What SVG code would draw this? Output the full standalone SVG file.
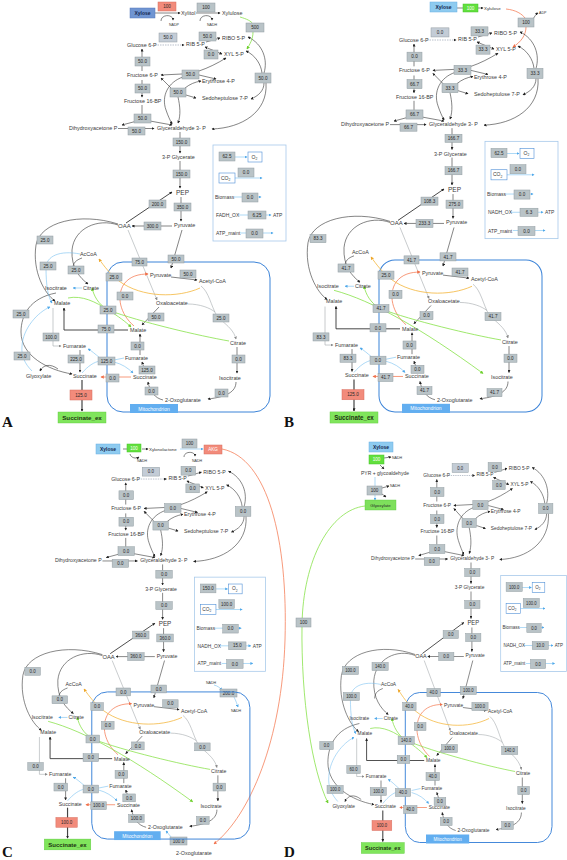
<svg xmlns="http://www.w3.org/2000/svg" width="567" height="860" viewBox="0 0 567 860">
<style>
.m{font-family:"Liberation Sans",Arial,sans-serif;font-size:5.4px;fill:#3a3a3a}
.i{font-family:"Liberation Sans",Arial,sans-serif;font-size:5px;fill:#3a3a3a}
.s{font-family:"Liberation Sans",Arial,sans-serif;font-size:3.6px;fill:#333}
.v{font-family:"Liberation Sans",Arial,sans-serif;font-size:4.6px;fill:#2a2a2a;text-anchor:middle}
.xt{font-family:"Liberation Sans",Arial,sans-serif;font-size:5px;font-weight:bold;fill:#14264e;text-anchor:middle}
.ml{font-family:"Liberation Sans",Arial,sans-serif;font-size:5px;fill:#fff;text-anchor:middle}
.se{font-family:"Liberation Sans",Arial,sans-serif;font-size:6.2px;font-weight:bold;fill:#1d3312;text-anchor:middle}
.pl{font-family:"Liberation Serif","Times New Roman",serif;font-size:15px;font-weight:bold;fill:#111}
.fb{fill:#b9c3c7;stroke:#929da2;stroke-width:0.5}
.rb{fill:#f28b7b;stroke:#d86d5e;stroke-width:0.5}
.gb{fill:#62e03e;stroke:#45c22a;stroke-width:0.5}
.xb{fill:#8ecbf0;stroke:#6aaee3;stroke-width:0.5}
.wb{fill:#fff;stroke:#4d8ed6;stroke-width:0.6}
.k{fill:none;stroke:#333;stroke-width:0.6;marker-end:url(#ak)}
.k0{fill:none;stroke:#333;stroke-width:0.6}
.ks{fill:none;stroke:#333;stroke-width:0.6;marker-start:url(#ak)}
.k2{fill:none;stroke:#333;stroke-width:0.6;marker-start:url(#ak);marker-end:url(#ak)}
.kt{fill:none;stroke:#333;stroke-width:0.9;marker-end:url(#ak)}
.kk{fill:none;stroke:#444;stroke-width:1.2;marker-end:url(#ak)}
.g{fill:none;stroke:#a3a9ac;stroke-width:0.6;marker-end:url(#agy)}
.g0{fill:none;stroke:#a3a9ac;stroke-width:0.6}
.dsh{fill:none;stroke:#8a96a8;stroke-width:0.6;stroke-dasharray:1.5 1;marker-end:url(#ak)}
.bl{fill:none;stroke:#76bff0;stroke-width:0.6;marker-end:url(#ab)}
.bl0{fill:none;stroke:#76bff0;stroke-width:0.6}
.or{fill:none;stroke:#f5805a;stroke-width:0.8;marker-end:url(#ao)}
.or0{fill:none;stroke:#f5805a;stroke-width:0.8}
.ye{fill:none;stroke:#f4b63c;stroke-width:0.8;marker-end:url(#ay)}
.gr{fill:none;stroke:#88e24a;stroke-width:0.8;marker-end:url(#agr)}
.gr0{fill:none;stroke:#88e24a;stroke-width:0.8}
.mito{fill:none;stroke:#3b83d8;stroke-width:1}
</style>
<defs>
<marker id="ak" viewBox="0 0 6 6" refX="5" refY="3" markerWidth="3" markerHeight="3" markerUnits="userSpaceOnUse" orient="auto-start-reverse"><path d="M0,0 L6,3 L0,6 z" fill="#222"/></marker>
<marker id="agy" viewBox="0 0 6 6" refX="5" refY="3" markerWidth="3" markerHeight="3" markerUnits="userSpaceOnUse" orient="auto-start-reverse"><path d="M0,0 L6,3 L0,6 z" fill="#888"/></marker>
<marker id="ab" viewBox="0 0 6 6" refX="5" refY="3" markerWidth="3" markerHeight="3" markerUnits="userSpaceOnUse" orient="auto-start-reverse"><path d="M0,0 L6,3 L0,6 z" fill="#4fa8ea"/></marker>
<marker id="ao" viewBox="0 0 6 6" refX="5" refY="3" markerWidth="3.4" markerHeight="3.4" markerUnits="userSpaceOnUse" orient="auto-start-reverse"><path d="M0,0 L6,3 L0,6 z" fill="#f0704a"/></marker>
<marker id="ay" viewBox="0 0 6 6" refX="5" refY="3" markerWidth="3.4" markerHeight="3.4" markerUnits="userSpaceOnUse" orient="auto-start-reverse"><path d="M0,0 L6,3 L0,6 z" fill="#eea62a"/></marker>
<marker id="agr" viewBox="0 0 6 6" refX="5" refY="3" markerWidth="3.4" markerHeight="3.4" markerUnits="userSpaceOnUse" orient="auto-start-reverse"><path d="M0,0 L6,3 L0,6 z" fill="#6fcf30"/></marker>

<g id="conn-core">
<rect class="mito" x="107" y="262" width="163" height="150" rx="16"/>
<path class="dsh" d="M155,45 L184,45"/>
<path class="k" d="M206,42 L220,38"/>
<path class="k2" d="M222,54 L205,47"/>
<path class="k" d="M142,71 L142,49"/>
<path class="k" d="M142,80 L142,97"/>
<path class="k0" d="M142,105 L142,114"/>
<path class="k" d="M137,121 L122,125"/>
<path class="k" d="M150,121 L172,125"/>
<path class="k" d="M118,128.5 L154,128.5"/>
<path class="k" d="M180,132 L180,153"/>
<path class="k" d="M180,161 L180,188"/>
<path class="k" d="M181,197 L181,221"/>
<path class="kt" d="M126,223 L172,192"/>
<path class="k" d="M172,226 L132,226"/>
<path class="k" d="M182,230 L171,268"/>
<path class="k" d="M171,277 L197,280"/>
<path class="g" d="M128,230 L157,300"/>
<path class="g0" d="M201,286 C209,292 211,306 217,316"/>
<path class="g0" d="M188,304 C200,304 210,308 215,312"/>
<path class="g" d="M221,320 C228,326 234,331 236,339"/>
<path class="k" d="M237,347 L237,373"/>
<path class="k" d="M236,382 C236,392 226,397 208,399"/>
<path class="k" d="M163,400 C155,398 150,392 148,382"/>
<path class="k" d="M146,373 L142,362"/>
<path class="k" d="M140,355 L140,334"/>
<path class="k" d="M159,307 L142,325"/>
<path class="kt" d="M128,330 L64,330 L64,308"/>
<path class="g" d="M53,308 L53,346 L61,346"/>
<path class="k" d="M80,350 L80,372"/>
<path class="or" d="M131,377 L101,377"/>
<path class="kk" d="M82,380 L82,411"/>
<path class="bl" d="M100,358 C95,354 92,351 88,349"/>
<path class="bl0" d="M82,373 C88,366 94,362 100,361"/>
<path class="bl" d="M114,362 C122,364 128,368 133,373"/>
<path class="bl0" d="M124,358 L114,360"/>
<path class="bl" d="M82,288 L73,288"/>
<path class="k" d="M118,225 C98,218 74,228 72,250 C71,268 80,278 88,284"/>
<path class="k0" d="M82,258 C76,260 73,263 73,268"/>
<path class="k" d="M118,224 C80,212 40,222 36,245 C32,272 45,294 55,301"/>
<path class="or" d="M134,326 C120,314 116,296 124,284 C130,276 139,274 148,274"/>
<path class="ye" d="M200,288 C178,298 142,298 119,281 C110,274 104,266 99,259"/>
<path class="gr" d="M229,341 C200,336 140,322 108,310 C98,304 94,296 92,288"/>
<path class="ks" d="M248,37 C263,44 268,60 264,73"/>
<path class="ks" d="M246,51 C255,55 261,64 262,73"/>
<path class="k" d="M264,83 C264,91 258,96 251,99"/>
<path class="k" d="M266,83 C268,112 242,128 212,129"/>
<path class="k" d="M182,74 L161,75"/>
<path class="k" d="M199,75 L216,79"/>
<path class="ks" d="M226,58 C218,63 208,68 199,71"/>
<path class="k" d="M183,77 C168,82 161,96 166,110 C168,116 170,120 172,124"/>
<path class="k" d="M171,88 L161,78"/>
<path class="k" d="M186,95 L196,98"/>
<path class="k" d="M185,88 C190,84 195,82 201,81"/>
<path class="k" d="M178,97 C180,106 181,115 178,123"/>
</g>
<g id="conn-malate"><path class="gr" d="M68,298 C82,295 96,302 108,310 C118,316 126,322 131,327"/></g>
<g id="conn-iso"><path class="gr" d="M62,292 C100,302 150,330 211,374"/></g>
<g id="conn-glyox">
<path class="k" d="M56,293 C30,298 21,315 21,332 C21,356 48,370 72,374"/>
<path class="k" d="M58,369 C50,363 43,365 40,371"/>
<path class="bl" d="M32,371 C25,364 21,356 22,346 C23,328 38,312 50,307"/>
<path class="bl" d="M80,254 C60,250 46,256 46,268 C46,285 48,297 52,303"/>
<g id="n-glyoxylate"><text class="m" x="26" y="378">Glyoxylate</text></g>
</g>
<g id="labels-core">
<g id="n-ribo5p"><text class="m" x="222" y="40">RIBO 5-P</text></g>
<g id="n-rib5p"><text class="m" x="186" y="46">RIB 5-P</text></g>
<g id="n-g6p"><text class="m" x="127" y="47">Glucose 6-P</text></g>
<g id="n-xyl5p"><text class="m" x="224" y="56">XYL 5-P</text></g>
<g id="n-f6p"><text class="m" x="127" y="77">Fructose 6-P</text></g>
<g id="n-e4p"><text class="m" x="202" y="83">Erythrose 4-P</text></g>
<g id="n-s7p"><text class="m" x="202" y="100">Sedoheptulose 7-P</text></g>
<g id="n-f16bp"><text class="m" x="124" y="103">Fructose 16-BP</text></g>
<g id="n-dhap"><text class="m" x="69" y="130">Dihydroxyacetone P</text></g>
<g id="n-gap"><text class="m" x="157" y="130">Glyceraldehyde 3- P</text></g>
<g id="n-3pg"><text class="m" x="162" y="159">3-P Glycerate</text></g>
<g id="n-pep"><text class="m" x="176" y="195" style="font-size:6.5px">PEP</text></g>
<g id="n-pyr"><text class="m" x="174" y="227">Pyruvate</text></g>
<g id="n-oaa"><text class="m" x="118" y="228" style="font-size:6px">OAA</text></g>
<g id="n-accoa"><text class="m" x="80" y="256">AcCoA</text></g>
<g id="n-pyr-m"><text class="m" x="150" y="277">Pyruvate</text></g>
<g id="n-acetylcoa-m"><text class="m" x="199" y="283">Acetyl-CoA</text></g>
<g id="n-isocit"><text class="m" x="45" y="290">Isocitrate</text></g>
<g id="n-cit"><text class="m" x="83" y="290">Citrate</text></g>
<g id="n-mal"><text class="m" x="54" y="305">Malate</text></g>
<g id="n-oaa-m"><text class="m" x="156" y="305">Oxaloacetate</text></g>
<g id="n-mal-m"><text class="m" x="130" y="332">Malate</text></g>
<g id="n-cit-m"><text class="m" x="230" y="345">Citrate</text></g>
<g id="n-fum"><text class="m" x="63" y="348">Fumarate</text></g>
<g id="n-fum-m"><text class="m" x="125" y="360">Fumarate</text></g>
<g id="n-succ"><text class="m" x="73" y="378">Succinate</text></g>
<g id="n-succ-m"><text class="m" x="133" y="379">Succinate</text></g>
<g id="n-isocit-m"><text class="m" x="219" y="380">Isocitrate</text></g>
<g id="n-2og-m"><text class="m" x="165" y="402">2-Oxoglutarate</text></g>
<g id="n-mito"><rect x="130" y="404" width="48" height="9" fill="#62aef0"/><text class="ml" x="154" y="410.5">Mitochondrion</text></g>
<g id="n-succ-ex"><rect x="58" y="412" width="48" height="11" fill="#80e55c" stroke="#5cc83c" stroke-width="0.4"/><text class="se" x="82" y="419.8">Succinate_ex</text></g>
</g>
<g id="info-frame">
<rect x="213" y="145" width="73" height="96" fill="none" stroke="#a7c9ea" stroke-width="0.8"/>
<path class="bl" d="M235,157 L247,157"/>
<rect class="wb" x="248" y="152" width="14" height="10"/><text class="i" x="251.5" y="158.5">O<tspan font-size="3.4" dy="1.2">2</tspan></text>
<path class="bl" d="M235,178 L262,178"/>
<rect class="wb" x="219" y="173" width="16" height="10"/><text class="i" x="221" y="179.5">CO<tspan font-size="3.4" dy="1.2">2</tspan></text>
<text class="i" x="215" y="199">Biomass</text>
<path class="bl" d="M234,197 L261,197"/>
<path class="bl" d="M238,215 L271,215"/>
<text class="i" x="273" y="217">ATP</text>
<text class="i" x="216" y="235">ATP_maint</text>
<path class="bl" d="M241,233 L273,233"/>
</g>
</defs>

<!-- ================= PANEL A ================= -->
<g id="panel-a">
<g id="a-connectors">
<use href="#conn-core"/><use href="#conn-malate"/><use href="#conn-glyox"/><use href="#info-frame"/>
<path class="k" d="M155,13 L180,13"/>
<path class="k" d="M161,21 C161,14 173,14 173,20"/>
<path class="k" d="M196,13 L220,13"/>
<path class="k" d="M200,21 C200,14 212,14 212,20"/>
<path class="gr0" d="M240,17 C247,19 251,21 253,24"/>
<path class="gr" d="M253,32 C253,39 250,44 247,49"/>
</g>
<use href="#labels-core"/>
<g id="a-xylose"><rect x="130" y="8" width="25" height="10" fill="#7095d2" stroke="#5479bd" stroke-width="0.5"/><text class="xt" x="142.5" y="14.8">Xylose</text></g>
<g id="a-xylitol"><text class="m" x="181" y="15">Xylitol</text></g>
<g id="a-xylulose"><text class="m" x="222" y="15">Xylulose</text></g>
<g id="a-nadp"><text class="s" x="169" y="26">NADP</text></g>
<g id="a-nadh"><text class="s" x="207" y="26">NADH</text></g>
<text class="i" x="216" y="217">FADH_OX</text>
<g id="a-fluxes">
<rect class="rb" x="158" y="2" width="18" height="9"/><text class="v" x="167" y="8.2">100</text>
<rect class="fb" x="197" y="3" width="18" height="9"/><text class="v" x="206" y="9.2">100</text>
<rect class="fb" x="246" y="23" width="18" height="9"/><text class="v" x="255" y="29.2">500</text>
<rect class="fb" x="159" y="33" width="18" height="9" style="fill:#c3ccd6"/><text class="v" x="168" y="39.2">50.0</text>
<rect class="fb" x="199" y="32" width="17" height="9"/><text class="v" x="207.5" y="38.2">50.0</text>
<rect class="fb" x="204" y="50" width="14" height="9"/><text class="v" x="211" y="56.2">0.0</text>
<rect class="fb" x="255" y="73" width="16" height="10"/><text class="v" x="263" y="79.7">50.0</text>
<rect class="fb" x="135" y="57" width="15" height="9"/><text class="v" x="142.5" y="63.2">50.0</text>
<rect class="fb" x="182" y="70" width="17" height="9"/><text class="v" x="190.5" y="76.2">50.0</text>
<rect class="fb" x="170" y="88" width="16" height="9"/><text class="v" x="178" y="94.2">50.0</text>
<rect class="fb" x="135" y="84" width="15" height="9"/><text class="v" x="142.5" y="90.2">50.0</text>
<rect class="fb" x="134" y="114" width="17" height="9"/><text class="v" x="142.5" y="120.2">50.0</text>
<rect class="fb" x="128" y="127" width="17" height="8"/><text class="v" x="136.5" y="132.7">50.0</text>
<rect class="fb" x="173" y="138" width="17" height="8"/><text class="v" x="181.5" y="143.7">150.0</text>
<rect class="fb" x="173" y="170" width="17" height="8"/><text class="v" x="181.5" y="175.7">150.0</text>
<rect class="fb" x="149" y="200" width="17" height="8"/><text class="v" x="157.5" y="205.7">200.0</text>
<rect class="fb" x="174" y="203" width="17" height="8"/><text class="v" x="182.5" y="208.7">350.0</text>
<rect class="fb" x="144" y="222" width="17" height="8"/><text class="v" x="152.5" y="227.7">300.0</text>
<rect class="fb" x="168" y="255" width="16" height="8"/><text class="v" x="176" y="260.7">50.0</text>
<rect class="fb" x="132" y="258" width="15" height="8"/><text class="v" x="139.5" y="263.7">75.0</text>
<rect class="fb" x="180" y="270" width="16" height="8"/><text class="v" x="188" y="275.7">50.0</text>
<rect class="fb" x="213" y="314" width="16" height="8"/><text class="v" x="221" y="319.7">25.0</text>
<rect class="fb" x="232" y="355" width="13" height="8"/><text class="v" x="238.5" y="360.7">0.0</text>
<rect class="fb" x="215" y="389" width="13" height="8"/><text class="v" x="221.5" y="394.7">0.0</text>
<rect class="fb" x="145" y="387" width="13" height="8"/><text class="v" x="151.5" y="392.7">0.0</text>
<rect class="fb" x="139" y="366" width="16" height="8"/><text class="v" x="147" y="371.7">125.0</text>
<rect class="fb" x="131" y="342" width="13" height="8"/><text class="v" x="137.5" y="347.7">0.0</text>
<rect class="fb" x="148" y="313" width="16" height="8"/><text class="v" x="156" y="318.7">50.0</text>
<rect class="fb" x="117" y="292" width="16" height="8"/><text class="v" x="125" y="297.7">0.0</text>
<rect class="fb" x="106" y="273" width="16" height="8"/><text class="v" x="114" y="278.7">25.0</text>
<rect class="fb" x="100" y="306" width="16" height="8"/><text class="v" x="108" y="311.7">25.0</text>
<rect class="fb" x="98" y="325" width="16" height="8"/><text class="v" x="106" y="330.7">75.0</text>
<rect class="fb" x="68" y="266" width="16" height="8"/><text class="v" x="76" y="271.7">25.0</text>
<rect class="fb" x="37" y="236" width="16" height="8"/><text class="v" x="45" y="241.7">25.0</text>
<rect class="fb" x="40" y="262" width="16" height="8"/><text class="v" x="48" y="267.7">25.0</text>
<rect class="fb" x="13" y="310" width="16" height="8"/><text class="v" x="21" y="315.7">25.0</text>
<rect class="fb" x="14" y="352" width="16" height="8"/><text class="v" x="22" y="357.7">25.0</text>
<rect class="fb" x="43" y="333" width="16" height="8"/><text class="v" x="51" y="338.7">100.0</text>
<rect class="fb" x="68" y="355" width="16" height="8"/><text class="v" x="76" y="360.7">225.0</text>
<rect class="fb" x="98" y="357" width="17" height="8"/><text class="v" x="106.5" y="362.7">125.0</text>
<rect class="fb" x="106" y="374" width="13" height="8"/><text class="v" x="112.5" y="379.7">0.0</text>
<rect class="rb" x="70" y="390" width="22" height="10"/><text class="v" x="81" y="396.7">125.0</text>
<rect class="fb" x="219" y="152" width="16" height="9"/><text class="v" x="227" y="158.2">62.5</text>
<rect class="fb" x="238" y="168" width="16" height="9"/><text class="v" x="246" y="174.2">0.0</text>
<rect class="fb" x="242" y="193" width="16" height="9"/><text class="v" x="250" y="199.2">0.0</text>
<rect class="fb" x="248" y="211" width="18" height="8"/><text class="v" x="257" y="216.7">6.25</text>
<rect class="fb" x="246" y="229" width="17" height="9"/><text class="v" x="254.5" y="235.2">0.0</text>
</g>
</g>

<!-- ================= PANEL B ================= -->
<g id="panel-b-top">
<path class="k0" d="M457,8 L463,8"/>
<path class="k" d="M478,8 L483,8"/>
<path class="or0" d="M506,9 C516,10 522,14 525,18"/>
<path class="or" d="M526,27 C526,35 521,42 513,47"/>
<path class="k" d="M533,19 C535,16 536,14 538,13"/>
<g id="b-xylose"><rect class="xb" x="430" y="2" width="27" height="10"/><text class="xt" x="443.5" y="8.8">Xylose</text></g>
<g id="b-xylulose"><text class="s" x="484" y="9.5" style="font-size:4.4px">Xylulose</text></g>
<g id="b-adp"><text class="s" x="539" y="14">ADP</text></g>
<rect class="gb" x="463" y="4" width="15" height="8"/><text class="v" x="470.5" y="9.7" style="fill:#fff">100</text>
<rect class="fb" x="518" y="18" width="16" height="9"/><text class="v" x="526" y="24.2">100</text>
</g>
<g id="panel-b" transform="translate(272,-5.6) scale(1,1.0134)">
<g id="b-connectors"><use href="#conn-core"/><use href="#conn-iso"/><use href="#info-frame"/></g>
<use href="#labels-core"/>
<text class="i" x="216" y="217">NADH_OX</text>
<g id="b-fluxes">
<rect class="fb" x="159" y="33" width="18" height="9" style="fill:#c3ccd6"/><text class="v" x="168" y="39.2">0.0</text>
<rect class="fb" x="199" y="32" width="17" height="9"/><text class="v" x="207.5" y="38.2">33.3</text>
<rect class="fb" x="204" y="50" width="14" height="9"/><text class="v" x="211" y="56.2">33.3</text>
<rect class="fb" x="255" y="73" width="16" height="10"/><text class="v" x="263" y="79.7">33.3</text>
<rect class="fb" x="135" y="57" width="15" height="9"/><text class="v" x="142.5" y="63.2">0.0</text>
<rect class="fb" x="182" y="70" width="17" height="9"/><text class="v" x="190.5" y="76.2">33.3</text>
<rect class="fb" x="170" y="88" width="16" height="9"/><text class="v" x="178" y="94.2">33.3</text>
<rect class="fb" x="135" y="84" width="15" height="9"/><text class="v" x="142.5" y="90.2">66.7</text>
<rect class="fb" x="134" y="114" width="17" height="9"/><text class="v" x="142.5" y="120.2">66.7</text>
<rect class="fb" x="128" y="127" width="17" height="8"/><text class="v" x="136.5" y="132.7">66.7</text>
<rect class="fb" x="173" y="138" width="17" height="8"/><text class="v" x="181.5" y="143.7">166.7</text>
<rect class="fb" x="173" y="170" width="17" height="8"/><text class="v" x="181.5" y="175.7">166.7</text>
<rect class="fb" x="149" y="200" width="17" height="8"/><text class="v" x="157.5" y="205.7">108.3</text>
<rect class="fb" x="174" y="203" width="17" height="8"/><text class="v" x="182.5" y="208.7">275.0</text>
<rect class="fb" x="144" y="222" width="17" height="8"/><text class="v" x="152.5" y="227.7">233.3</text>
<rect class="fb" x="168" y="255" width="16" height="8"/><text class="v" x="176" y="260.7">41.7</text>
<rect class="fb" x="132" y="258" width="15" height="8"/><text class="v" x="139.5" y="263.7">41.7</text>
<rect class="fb" x="180" y="270" width="16" height="8"/><text class="v" x="188" y="275.7">41.7</text>
<rect class="fb" x="213" y="314" width="16" height="8"/><text class="v" x="221" y="319.7">41.7</text>
<rect class="fb" x="232" y="355" width="13" height="8"/><text class="v" x="238.5" y="360.7">0.0</text>
<rect class="fb" x="215" y="389" width="15" height="8"/><text class="v" x="222.5" y="394.7">41.7</text>
<rect class="fb" x="145" y="387" width="15" height="8"/><text class="v" x="152.5" y="392.7">41.7</text>
<rect class="fb" x="139" y="366" width="13" height="8"/><text class="v" x="145.5" y="371.7">0.0</text>
<rect class="fb" x="131" y="342" width="13" height="8"/><text class="v" x="137.5" y="347.7">0.0</text>
<rect class="fb" x="148" y="313" width="13" height="8"/><text class="v" x="154.5" y="318.7">0.0</text>
<rect class="fb" x="117" y="292" width="13" height="8"/><text class="v" x="123.5" y="297.7">0.0</text>
<rect class="fb" x="106" y="273" width="16" height="8"/><text class="v" x="114" y="278.7">25.0</text>
<rect class="fb" x="101" y="306" width="16" height="8"/><text class="v" x="109" y="311.7">41.7</text>
<rect class="fb" x="98" y="325" width="16" height="8"/><text class="v" x="106" y="330.7">0.0</text>
<rect class="fb" x="66" y="266" width="16" height="8"/><text class="v" x="74" y="271.7">41.7</text>
<rect class="fb" x="38" y="237" width="16" height="8"/><text class="v" x="46" y="242.7">83.3</text>
<rect class="fb" x="41" y="334" width="16" height="8"/><text class="v" x="49" y="339.7">83.3</text>
<rect class="fb" x="68" y="355" width="16" height="8"/><text class="v" x="76" y="360.7">83.3</text>
<rect class="fb" x="98" y="357" width="16" height="8"/><text class="v" x="106" y="362.7">0.0</text>
<rect class="fb" x="106" y="374" width="15" height="8"/><text class="v" x="113.5" y="379.7">41.7</text>
<rect class="rb" x="70" y="390" width="22" height="10"/><text class="v" x="81" y="396.7">125.0</text>
<rect class="fb" x="219" y="152" width="16" height="9"/><text class="v" x="227" y="158.2">62.5</text>
<rect class="fb" x="238" y="168" width="16" height="9"/><text class="v" x="246" y="174.2">0.0</text>
<rect class="fb" x="242" y="193" width="16" height="9"/><text class="v" x="250" y="199.2">0.0</text>
<rect class="fb" x="248" y="211" width="18" height="8"/><text class="v" x="257" y="216.7">6.3</text>
<rect class="fb" x="246" y="229" width="17" height="9"/><text class="v" x="254.5" y="235.2">0.0</text>
</g>
</g>

<!-- ================= PANEL C ================= -->
<g id="panel-c-top">
<path class="or" d="M222,449 C268,458 288,540 285,640 C282,740 250,815 214,844"/>
<path class="k0" d="M123,449 L128,449"/>
<path class="k" d="M142,449 L148,449"/>
<path class="k" d="M130,454 C131,458 136,459 139,457"/>
<path class="bl" d="M180,449 L203,449"/>
<path class="k" d="M184,457 C184,451 195,451 195,456"/>
<path class="bl" d="M214,685 C218,686 220,688 222,690"/>
<path class="bl" d="M234,697 C236,701 237,704 238,707"/>
<path class="bl" d="M172,838 L166,831"/>
<g id="c-xylose"><rect class="xb" x="96" y="444" width="24" height="10"/><text class="xt" x="108" y="450.8">Xylose</text></g>
<g id="c-xylonolactone"><text class="s" x="149" y="450.8" style="font-size:4.4px">Xylonolactone</text></g>
<g id="c-nadh1"><text class="s" x="137" y="462">NADH</text></g>
<g id="c-nadh2"><text class="s" x="192" y="462">NADH</text></g>
<g id="c-akg"><rect class="rb" x="204" y="445" width="18" height="9"/><text class="v" x="213" y="451.2" style="fill:#fff">AKG</text></g>
<g id="c-nadh3"><text class="s" x="206" y="684">NADH</text></g>
<g id="c-nadh4"><text class="s" x="231" y="712">NADH</text></g>
<g id="c-2og-out"><text class="m" x="176" y="855">2-Oxoglutarate</text></g>
<rect class="gb" x="127" y="444" width="14" height="8"/><text class="v" x="134" y="449.7" style="fill:#fff">100</text>
<rect class="fb" x="182" y="439" width="15" height="9"/><text class="v" x="189.5" y="445.2">100</text>
<rect class="fb" x="220" y="689" width="17" height="8"/><text class="v" x="228.5" y="694.7">200.0</text>
<rect class="fb" x="170" y="837" width="17" height="8"/><text class="v" x="178.5" y="842.7">100.0</text>
</g>
<g id="panel-c" transform="translate(-12,434.9) scale(0.97,0.981)">
<g id="c-connectors"><use href="#conn-core"/><use href="#conn-iso"/><use href="#info-frame"/></g>
<use href="#labels-core"/>
<text class="i" x="216" y="217">NADH_OX</text>
<g id="c-fluxes">
<rect class="fb" x="159" y="33" width="18" height="9" style="fill:#c3ccd6"/><text class="v" x="168" y="39.2">0.0</text>
<rect class="fb" x="199" y="32" width="15" height="9"/><text class="v" x="206.5" y="38.2">0.0</text>
<rect class="fb" x="204" y="50" width="14" height="9"/><text class="v" x="211" y="56.2">0.0</text>
<rect class="fb" x="255" y="73" width="16" height="10"/><text class="v" x="263" y="79.7">0.0</text>
<rect class="fb" x="135" y="57" width="15" height="9"/><text class="v" x="142.5" y="63.2">0.0</text>
<rect class="fb" x="182" y="70" width="17" height="9"/><text class="v" x="190.5" y="76.2">0.0</text>
<rect class="fb" x="170" y="88" width="16" height="9"/><text class="v" x="178" y="94.2">0.0</text>
<rect class="fb" x="135" y="84" width="15" height="9"/><text class="v" x="142.5" y="90.2">0.0</text>
<rect class="fb" x="134" y="114" width="17" height="9"/><text class="v" x="142.5" y="120.2">0.0</text>
<rect class="fb" x="128" y="127" width="17" height="8"/><text class="v" x="136.5" y="132.7">0.0</text>
<rect class="fb" x="173" y="138" width="17" height="8"/><text class="v" x="181.5" y="143.7">0.0</text>
<rect class="fb" x="173" y="170" width="17" height="8"/><text class="v" x="181.5" y="175.7">0.0</text>
<rect class="fb" x="149" y="200" width="17" height="8"/><text class="v" x="157.5" y="205.7">360.0</text>
<rect class="fb" x="174" y="203" width="17" height="8"/><text class="v" x="182.5" y="208.7">360.0</text>
<rect class="fb" x="144" y="222" width="17" height="8"/><text class="v" x="152.5" y="227.7">360.0</text>
<rect class="fb" x="168" y="255" width="16" height="8"/><text class="v" x="176" y="260.7">0.0</text>
<rect class="fb" x="132" y="258" width="15" height="8"/><text class="v" x="139.5" y="263.7">0.0</text>
<rect class="fb" x="180" y="270" width="16" height="8"/><text class="v" x="188" y="275.7">0.0</text>
<rect class="fb" x="213" y="314" width="16" height="8"/><text class="v" x="221" y="319.7">0.0</text>
<rect class="fb" x="232" y="355" width="13" height="8"/><text class="v" x="238.5" y="360.7">0.0</text>
<rect class="fb" x="215" y="389" width="13" height="8"/><text class="v" x="221.5" y="394.7">0.0</text>
<rect class="fb" x="145" y="387" width="16" height="8"/><text class="v" x="153" y="392.7">100.0</text>
<rect class="fb" x="139" y="366" width="13" height="8"/><text class="v" x="145.5" y="371.7">0.0</text>
<rect class="fb" x="131" y="342" width="13" height="8"/><text class="v" x="137.5" y="347.7">0.0</text>
<rect class="fb" x="148" y="313" width="13" height="8"/><text class="v" x="154.5" y="318.7">0.0</text>
<rect class="fb" x="117" y="292" width="13" height="8"/><text class="v" x="123.5" y="297.7">0.0</text>
<rect class="fb" x="106" y="273" width="13" height="8"/><text class="v" x="112.5" y="278.7">0.0</text>
<rect class="fb" x="101" y="306" width="14" height="8"/><text class="v" x="108" y="311.7">0.0</text>
<rect class="fb" x="98" y="325" width="16" height="8"/><text class="v" x="106" y="330.7">0.0</text>
<rect class="fb" x="66" y="266" width="16" height="8"/><text class="v" x="74" y="271.7">0.0</text>
<rect class="fb" x="38" y="237" width="16" height="8"/><text class="v" x="46" y="242.7">0.0</text>
<rect class="fb" x="41" y="334" width="16" height="8"/><text class="v" x="49" y="339.7">0.0</text>
<rect class="fb" x="68" y="355" width="14" height="8"/><text class="v" x="75" y="360.7">0.0</text>
<rect class="fb" x="98" y="357" width="16" height="8"/><text class="v" x="106" y="362.7">0.0</text>
<rect class="fb" x="106" y="374" width="16" height="8"/><text class="v" x="114" y="379.7">100.0</text>
<rect class="rb" x="70" y="390" width="22" height="10"/><text class="v" x="81" y="396.7">100.0</text>
<rect class="fb" x="219" y="152" width="16" height="9"/><text class="v" x="227" y="158.2">150.0</text>
<rect class="fb" x="238" y="168" width="16" height="9"/><text class="v" x="246" y="174.2">100.0</text>
<rect class="fb" x="242" y="193" width="16" height="9"/><text class="v" x="250" y="199.2">0.0</text>
<rect class="fb" x="248" y="211" width="18" height="8"/><text class="v" x="257" y="216.7">15.0</text>
<rect class="fb" x="246" y="229" width="17" height="9"/><text class="v" x="254.5" y="235.2">0.0</text>
</g>
</g>

<!-- ================= PANEL D ================= -->
<g id="panel-d-top">
<path class="gr" d="M365,506 C330,510 303,560 302,625 C301,700 312,770 328,803"/>
<path class="k" d="M384,458 L391,457"/>
<path class="k" d="M380,465 L384,469"/>
<path class="bl0" d="M375,477 L375,486"/>
<path class="k" d="M382,488 L389,486"/>
<path class="k" d="M382,494 L386,497"/>
<path class="bl" d="M375,495 L375,500"/>
<g id="d-xylose"><rect class="xb" x="369" y="442" width="24" height="10"/><text class="xt" x="381" y="448.8">Xylose</text></g>
<g id="d-nadh1"><text class="s" x="392" y="459">NADH</text></g>
<g id="d-pyr-glyc"><text class="m" x="361" y="475" style="font-size:5px">PYR + glycoaldehyde</text></g>
<g id="d-nadh2"><text class="s" x="390" y="487">NADH</text></g>
<g id="d-glyoxylate-top"><rect x="365" y="500" width="31" height="10" fill="#7ee05c" stroke="#5cc83c" stroke-width="0.4"/><text class="v" x="380.5" y="506.5" style="font-size:4.4px">Glyoxylate</text></g>
<rect class="gb" x="369" y="455" width="15" height="9"/><text class="v" x="376.5" y="461.2" style="fill:#fff">100</text>
<rect class="fb" x="367" y="486" width="15" height="9"/><text class="v" x="374.5" y="492.2">100</text>
<rect class="fb" x="296" y="618" width="15" height="9"/><text class="v" x="303.5" y="624.2">100</text>
</g>
<g id="panel-d" transform="translate(309,430.5) scale(0.9,1)">
<g id="d-connectors"><use href="#conn-core"/><use href="#conn-malate"/><use href="#conn-glyox"/><use href="#info-frame"/></g>
<use href="#labels-core"/>
<text class="i" x="216" y="217">NADH_OX</text>
<g id="d-fluxes">
<rect class="fb" x="159" y="33" width="18" height="9" style="fill:#c3ccd6"/><text class="v" x="168" y="39.2">0.0</text>
<rect class="fb" x="199" y="32" width="15" height="9"/><text class="v" x="206.5" y="38.2">0.0</text>
<rect class="fb" x="204" y="50" width="14" height="9"/><text class="v" x="211" y="56.2">0.0</text>
<rect class="fb" x="255" y="73" width="16" height="10"/><text class="v" x="263" y="79.7">0.0</text>
<rect class="fb" x="135" y="57" width="15" height="9"/><text class="v" x="142.5" y="63.2">0.0</text>
<rect class="fb" x="182" y="70" width="17" height="9"/><text class="v" x="190.5" y="76.2">0.0</text>
<rect class="fb" x="170" y="88" width="16" height="9"/><text class="v" x="178" y="94.2">0.0</text>
<rect class="fb" x="135" y="84" width="15" height="9"/><text class="v" x="142.5" y="90.2">0.0</text>
<rect class="fb" x="134" y="114" width="17" height="9"/><text class="v" x="142.5" y="120.2">0.0</text>
<rect class="fb" x="128" y="127" width="17" height="8"/><text class="v" x="136.5" y="132.7">0.0</text>
<rect class="fb" x="173" y="138" width="17" height="8"/><text class="v" x="181.5" y="143.7">0.0</text>
<rect class="fb" x="173" y="170" width="17" height="8"/><text class="v" x="181.5" y="175.7">0.0</text>
<rect class="fb" x="149" y="200" width="17" height="8"/><text class="v" x="157.5" y="205.7">0.0</text>
<rect class="fb" x="174" y="203" width="17" height="8"/><text class="v" x="182.5" y="208.7">0.0</text>
<rect class="fb" x="144" y="222" width="17" height="8"/><text class="v" x="152.5" y="227.7">0.0</text>
<rect class="fb" x="168" y="256" width="18" height="8"/><text class="v" x="177" y="261.7">100.0</text>
<rect class="fb" x="131" y="258" width="15" height="8"/><text class="v" x="138.5" y="263.7">40.0</text>
<rect class="fb" x="181" y="272" width="18" height="8"/><text class="v" x="190" y="277.7">100.0</text>
<rect class="fb" x="214" y="316" width="18" height="8"/><text class="v" x="223" y="321.7">140.0</text>
<rect class="fb" x="232" y="356" width="13" height="8"/><text class="v" x="238.5" y="361.7">0.0</text>
<rect class="fb" x="214" y="391" width="13" height="8"/><text class="v" x="220.5" y="396.7">0.0</text>
<rect class="fb" x="146" y="387" width="13" height="8"/><text class="v" x="152.5" y="392.7">0.0</text>
<rect class="fb" x="139" y="367" width="13" height="8"/><text class="v" x="145.5" y="372.7">0.0</text>
<rect class="fb" x="130" y="342" width="15" height="8"/><text class="v" x="137.5" y="347.7">40.0</text>
<rect class="fb" x="147" y="314" width="18" height="8"/><text class="v" x="156" y="319.7">100.0</text>
<rect class="fb" x="117" y="292" width="13" height="8"/><text class="v" x="123.5" y="297.7">0.0</text>
<rect class="fb" x="104" y="272" width="15" height="8"/><text class="v" x="111.5" y="277.7">40.0</text>
<rect class="fb" x="99" y="306" width="18" height="8"/><text class="v" x="108" y="311.7">140.0</text>
<rect class="fb" x="98" y="325" width="14" height="8"/><text class="v" x="105" y="330.7">0.0</text>
<rect class="fb" x="70" y="232" width="18" height="8"/><text class="v" x="79" y="237.7">140.0</text>
<rect class="fb" x="37" y="236" width="18" height="8"/><text class="v" x="46" y="241.7">100.0</text>
<rect class="fb" x="38" y="262" width="18" height="8"/><text class="v" x="47" y="267.7">100.0</text>
<rect class="fb" x="12" y="311" width="15" height="8"/><text class="v" x="19.5" y="316.7">0.0</text>
<rect class="fb" x="20" y="355" width="18" height="8"/><text class="v" x="29" y="360.7">100.0</text>
<rect class="fb" x="42" y="335" width="15" height="8"/><text class="v" x="49.5" y="340.7">60.0</text>
<rect class="fb" x="68" y="357" width="18" height="8"/><text class="v" x="77" y="362.7">100.0</text>
<rect class="fb" x="96" y="358" width="17" height="8"/><text class="v" x="104.5" y="363.7">40.0</text>
<rect class="fb" x="105" y="375" width="15" height="8"/><text class="v" x="112.5" y="380.7">40.0</text>
<rect class="rb" x="70" y="390" width="22" height="10"/><text class="v" x="81" y="396.7">100.0</text>
<rect class="fb" x="219" y="152" width="18" height="9"/><text class="v" x="228" y="158.2">100.0</text>
<rect class="fb" x="238" y="168" width="18" height="9"/><text class="v" x="247" y="174.2">100.0</text>
<rect class="fb" x="242" y="193" width="16" height="9"/><text class="v" x="250" y="199.2">0.0</text>
<rect class="fb" x="248" y="211" width="18" height="8"/><text class="v" x="257" y="216.7">10.0</text>
<rect class="fb" x="246" y="229" width="17" height="9"/><text class="v" x="254.5" y="235.2">0.0</text>
</g>
</g>

<g id="panel-labels">
<text class="pl" x="2" y="427">A</text>
<text class="pl" x="284" y="427">B</text>
<text class="pl" x="2" y="857">C</text>
<text class="pl" x="284" y="857">D</text>
</g>
</svg>
